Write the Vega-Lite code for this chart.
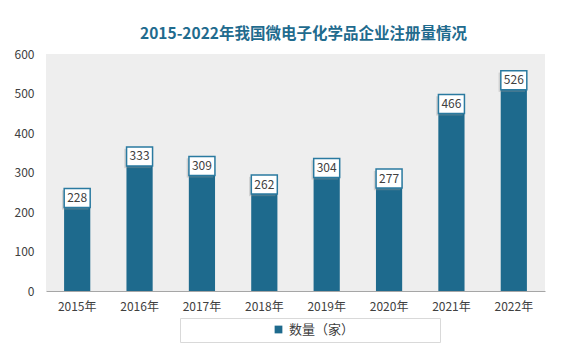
{
  "$schema": "https://vega.github.io/schema/vega-lite/v6.json",
  "width": 499,
  "height": 237,
  "autosize": {"type": "none"},
  "padding": {"left": 46, "top": 54, "right": 40, "bottom": 71},
  "background": "white",
  "config": {
    "font": "Noto Sans CJK SC",
    "view": {"fill": "#eeeeee", "stroke": null}
  },
  "title": {
    "text": "2015-2022年我国微电子化学品企业注册量情况",
    "fontSize": 15.5,
    "fontWeight": "bold",
    "color": "#1f6b8e",
    "font": "Noto Sans CJK SC",
    "offset": 6,
    "dx": 8
  },
  "data": {
    "values": [
      {"year": "2015年", "value": 228, "series": "数量（家）"},
      {"year": "2016年", "value": 333, "series": "数量（家）"},
      {"year": "2017年", "value": 309, "series": "数量（家）"},
      {"year": "2018年", "value": 262, "series": "数量（家）"},
      {"year": "2019年", "value": 304, "series": "数量（家）"},
      {"year": "2020年", "value": 277, "series": "数量（家）"},
      {"year": "2021年", "value": 466, "series": "数量（家）"},
      {"year": "2022年", "value": 526, "series": "数量（家）"}
    ]
  },
  "encoding": {
    "x": {
      "field": "year",
      "type": "nominal",
      "sort": null,
      "scale": {"paddingInner": 0.58, "paddingOuter": 0.29},
      "axis": {
        "title": null,
        "labelAngle": 0,
        "labelFontSize": 12,
        "labelColor": "#404040",
        "labelPadding": 10,
        "ticks": false,
        "domainColor": "#a6a6a6",
        "domainWidth": 1
      }
    },
    "y": {
      "field": "value",
      "type": "quantitative",
      "scale": {"domain": [0, 600]},
      "axis": {
        "title": null,
        "values": [0, 100, 200, 300, 400, 500, 600],
        "labelFontSize": 12,
        "labelColor": "#404040",
        "labelPadding": 12,
        "ticks": false,
        "domain": false,
        "grid": false
      }
    }
  },
  "layer": [
    {
      "mark": {"type": "bar", "color": "#1e6a8d"},
      "encoding": {
        "color": {
          "field": "series",
          "type": "nominal",
          "scale": {"range": ["#1e6a8d"]},
          "legend": {
            "title": null,
            "orient": "none",
            "legendX": 134,
            "legendY": 264,
            "direction": "horizontal",
            "symbolType": "square",
            "symbolSize": 60,
            "symbolOffset": 87,
            "labelFontSize": 13,
            "labelColor": "#404040",
            "labelLimit": 400,
            "labelExpr": "datum.label + '\u2800\u2800\u2800\u2800\u2800\u2800\u2800\u2800'",
            "strokeColor": "#d9d9d9",
            "fillColor": "white",
            "padding": 5
          }
        }
      }
    },
    {
      "mark": {
        "type": "point",
        "shape": "M-1,-0.73L1,-0.73L1,0.73L-1,0.73Z",
        "size": 700,
        "filled": true,
        "fill": "#9a9a9a",
        "opacity": 0.35,
        "strokeWidth": 0,
        "xOffset": -2,
        "yOffset": -1
      }
    },
    {
      "mark": {
        "type": "point",
        "shape": "M-1,-0.73L1,-0.73L1,0.73L-1,0.73Z",
        "size": 676,
        "filled": false,
        "fill": "white",
        "fillOpacity": 1,
        "stroke": "#2a7aa0",
        "strokeWidth": 1.5,
        "opacity": 1,
        "yOffset": -3
      }
    },
    {
      "mark": {
        "type": "text",
        "fontSize": 12,
        "color": "#404040",
        "yOffset": -3,
        "baseline": "middle"
      },
      "encoding": {"text": {"field": "value", "type": "quantitative"}}
    }
  ]
}
